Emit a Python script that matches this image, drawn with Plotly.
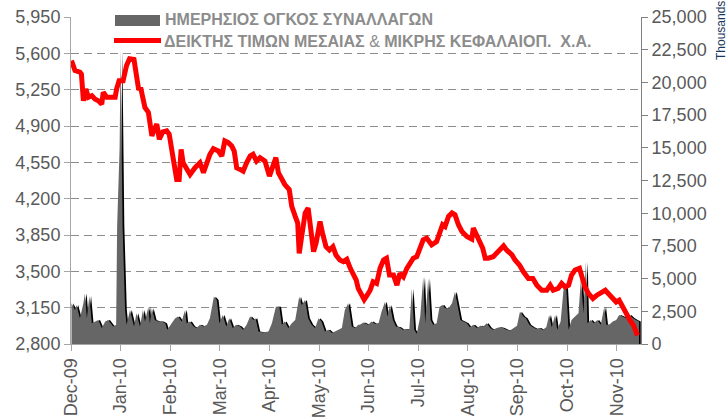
import plotly.graph_objects as go

# ---------------- data (x in months from Dec-09) ----------------
month_labels = ["Dec-09", "Jan-10", "Feb-10", "Mar-10", "Apr-10", "May-10",
                "Jun-10", "Jul-10", "Aug-10", "Sep-10", "Oct-10", "Nov-10"]

index_t = [0.01, 0.08, 0.18, 0.21, 0.25, 0.30, 0.35, 0.42, 0.48, 0.55, 0.62, 0.65, 0.72, 0.79, 0.89,
           0.92, 0.97, 1.05, 1.12, 1.18, 1.27, 1.32, 1.36, 1.41, 1.45, 1.49, 1.56, 1.59, 1.63, 1.68,
           1.73, 1.78, 1.85, 1.93, 1.98, 2.03, 2.08, 2.13, 2.18, 2.22, 2.26, 2.33, 2.40, 2.50, 2.60,
           2.67, 2.74, 2.80, 2.87, 2.97, 3.04, 3.10, 3.17, 3.24, 3.29, 3.34, 3.41, 3.47, 3.54, 3.61,
           3.67, 3.74, 3.81, 3.91, 4.00, 4.07, 4.13, 4.18, 4.25, 4.31, 4.40, 4.45, 4.52, 4.57, 4.60,
           4.65, 4.72, 4.78, 4.83, 4.89, 4.94, 5.02, 5.07, 5.14, 5.21, 5.28, 5.34, 5.42, 5.49, 5.56,
           5.63, 5.69, 5.75, 5.79, 5.85, 5.91, 5.97, 6.03, 6.09, 6.16, 6.23, 6.30, 6.36, 6.42, 6.50,
           6.57, 6.63, 6.70, 6.77, 6.83, 6.90, 6.97, 7.04, 7.10, 7.17, 7.27, 7.37, 7.44, 7.49, 7.54,
           7.61, 7.68, 7.74, 7.81, 7.88, 7.98, 8.08, 8.11, 8.18, 8.25, 8.30, 8.35, 8.41, 8.51, 8.61,
           8.72, 8.78, 8.89, 8.95, 9.04, 9.12, 9.22, 9.31, 9.39, 9.49, 9.59, 9.66, 9.72, 9.82, 9.89,
           9.96, 10.03, 10.09, 10.16, 10.25, 10.30, 10.36, 10.43, 10.52, 10.60, 10.70, 10.77, 10.83,
           10.90, 10.99, 11.05, 11.12, 11.19, 11.27, 11.34, 11.39, 11.42]
index_v = [5531, 5434, 5419, 5400, 5143, 5257, 5177, 5192, 5160, 5143, 5111, 5225, 5177, 5177, 5177,
           5257, 5337, 5337, 5483, 5548, 5541, 5386, 5264, 5257, 5143, 5079, 5031, 4934, 4804, 4869,
           4918, 4772, 4843, 4853, 4821, 4675, 4546, 4385, 4385, 4675, 4546, 4482, 4433, 4498, 4546,
           4450, 4562, 4627, 4682, 4659, 4610, 4756, 4740, 4707, 4659, 4498, 4482, 4465, 4546, 4610,
           4627, 4562, 4595, 4562, 4417, 4514, 4595, 4450, 4385, 4336, 4288, 4126, 4029, 3965, 3674,
           3868, 4062, 4110, 3900, 3690, 3771, 3981, 3868, 3738, 3706, 3738, 3658, 3609, 3593, 3616,
           3529, 3480, 3415, 3335, 3287, 3228, 3270, 3318, 3399, 3383, 3529, 3609, 3626, 3464, 3464,
           3367, 3480, 3447, 3529, 3577, 3626, 3641, 3722, 3803, 3820, 3755, 3787, 3868, 3949, 3932,
           4029, 4062, 4045, 3949, 3884, 3836, 3810, 3917, 3852, 3787, 3722, 3626, 3626, 3641, 3690,
           3745, 3706, 3658, 3609, 3561, 3496, 3432, 3432, 3367, 3318, 3318, 3367, 3318, 3335, 3383,
           3350, 3367, 3464, 3512, 3529, 3447, 3350, 3287, 3238, 3270, 3302, 3318, 3287,
           3254, 3205, 3222, 3157, 3093, 3028, 2979, 2931, 2882]

vol_t = [0.01, 0.08, 0.11, 0.18, 0.25, 0.28, 0.32, 0.37, 0.42, 0.48, 0.55, 0.62, 0.69, 0.75, 0.85,
         0.91, 0.93, 0.98, 1.00, 1.04, 1.09, 1.12, 1.19, 1.27, 1.32, 1.39, 1.45, 1.49, 1.56, 1.59,
         1.63, 1.69, 1.76, 1.83, 1.90, 1.94, 2.03, 2.10, 2.16, 2.23, 2.30, 2.33, 2.40, 2.47, 2.53,
         2.60, 2.67, 2.74, 2.80, 2.88, 2.94, 2.99, 3.06, 3.13, 3.19, 3.26, 3.33, 3.41, 3.47, 3.54,
         3.61, 3.68, 3.72, 3.78, 3.88, 3.98, 4.05, 4.13, 4.20, 4.25, 4.31, 4.38, 4.45, 4.52, 4.60,
         4.65, 4.72, 4.78, 4.85, 4.92, 4.99, 5.05, 5.12, 5.19, 5.26, 5.32, 5.39, 5.46, 5.52, 5.59,
         5.66, 5.73, 5.79, 5.83, 5.89, 5.99, 6.06, 6.13, 6.20, 6.26, 6.33, 6.38, 6.43, 6.49, 6.55,
         6.62, 6.69, 6.75, 6.82, 6.87, 6.92, 6.97, 7.04, 7.10, 7.14, 7.20, 7.25, 7.30, 7.37, 7.43,
         7.49, 7.54, 7.61, 7.68, 7.74, 7.79, 7.85, 7.91, 7.98, 8.04, 8.11, 8.18, 8.25, 8.31, 8.38,
         8.45, 8.51, 8.58, 8.65, 8.71, 8.78, 8.85, 8.92, 8.99, 9.05, 9.12, 9.17, 9.24, 9.31, 9.38,
         9.44, 9.51, 9.58, 9.64, 9.69, 9.76, 9.80, 9.87, 9.93, 9.98, 10.03, 10.09, 10.16, 10.23,
         10.28, 10.33, 10.38, 10.41, 10.48, 10.54, 10.61, 10.68, 10.75, 10.79, 10.85, 10.92, 10.99,
         11.05, 11.12, 11.19, 11.26, 11.33, 11.39, 11.45]
vol_v = [3112, 2603, 2983, 1973, 3112, 3870, 1973, 3666, 1594, 1715, 1844, 1214, 1715, 1844, 1336,
         1465, 9000, 15000, 22500, 9000, 2603, 1465, 2603, 1336, 2353, 1336, 2603, 1715, 2854, 1594,
         2732, 1844, 1715, 1715, 1594, 1085, 1594, 1973, 2095, 1715, 2603, 1594, 1715, 1336, 1214,
         1465, 1336, 1465, 1973, 3613, 3362, 1594, 2224, 1336, 1973, 1214, 1465, 1336, 1085, 1465,
         2095, 1844, 1973, 956, 880, 956, 1594, 2854, 2854, 1465, 1715, 1214, 1594, 1844, 3613,
         2983, 3362, 1973, 1465, 1214, 1973, 1715, 956, 1085, 835, 956, 1085, 1214, 2603, 3112,
         1336, 1214, 1465, 1465, 1640, 1465, 1715, 1540, 1594, 2474, 3233, 2095, 2983, 1844, 1336,
         1290, 1085, 1140, 1085, 4250, 1085, 782, 2095, 5131, 1594, 5009, 1844, 1465, 1594, 2854,
         2983, 2732, 2732, 3112, 3992, 3112, 1844, 1715, 1594, 1290, 1465, 1214, 1390, 1336, 1594,
         1214, 1085, 1214, 1290, 1214, 1085, 1030, 1214, 1390, 2474, 2095, 1973, 1465, 1290, 1140,
         1214, 1085, 1290, 2224, 1290, 2224, 1085, 1715, 4250, 4500, 1085, 1844, 2095, 2353,
         5009, 2353, 6270, 1594, 1844, 1594, 1844, 1465, 2854, 1465, 1465, 1715, 1844,
         2224, 2095, 1973, 2224, 1973, 1844, 1715]

left_ticks = [2800, 3150, 3500, 3850, 4200, 4550, 4900, 5250, 5600, 5950]
right_ticks = [0, 2500, 5000, 7500, 10000, 12500, 15000, 17500, 20000, 22500, 25000]

legend_vol = "ΗΜΕΡΗΣΙΟΣ ΟΓΚΟΣ ΣΥΝΑΛΛΑΓΩΝ"
legend_idx_a = "ΔΕΙΚΤΗΣ ΤΙΜΩΝ ΜΕΣΑΙΑΣ"
legend_idx_b = "ΜΙΚΡΗΣ ΚΕΦΑΛΑΙΟΠ.&nbsp;&nbsp;Χ.Α."

# ---------------- figure ----------------
W, H = 728, 420
L, R, T, B = 71, 641, 17, 344
shadow_shift = 0.035

fig = go.Figure()
fig.add_trace(go.Scatter(x=[t + shadow_shift for t in vol_t], y=vol_v, mode="lines",
                         line=dict(color="#000000", width=0), fill="tozeroy",
                         fillcolor="#000000", yaxis="y", showlegend=False, hoverinfo="skip"))
fig.add_trace(go.Scatter(x=vol_t, y=vol_v, mode="lines", line=dict(color="#666666", width=0),
                         fill="tozeroy", fillcolor="#666666", yaxis="y", showlegend=False))
fig.add_trace(go.Scatter(x=index_t, y=index_v, mode="lines", line=dict(color="#ff0000", width=5),
                         yaxis="y2", showlegend=False))

tick_font = dict(family="Liberation Sans, Arial, sans-serif", size=18, color="#595959")

fig.update_layout(
    width=W, height=H,
    margin=dict(l=L, r=W - R, t=T, b=H - B, pad=0, autoexpand=False),
    paper_bgcolor="white", plot_bgcolor="white",
    xaxis=dict(range=[0, 11.49], tickvals=list(range(len(month_labels))), ticktext=month_labels,
               tickangle=-90, ticks="outside", ticklen=6, tickcolor="#a6a6a6", automargin=False,
               showline=True, linecolor="#a6a6a6", linewidth=1, showgrid=False, zeroline=False,
               tickfont=tick_font),
    yaxis=dict(side="right", range=[0, 25000], tickvals=right_ticks, tickformat=",",
               ticks="outside", ticklen=6, tickcolor="#808080", showline=True, automargin=False,
               linecolor="#808080", linewidth=1, showgrid=False, zeroline=False,
               tickfont=tick_font),
    yaxis2=dict(side="left", overlaying="y", range=[2800, 5950], tickvals=left_ticks,
                tickformat=",", ticks="outside", ticklen=6, tickcolor="#a6a6a6", automargin=False,
                showline=True, linecolor="#a6a6a6", linewidth=1,
                showgrid=True, gridcolor="#8c8c8c", gridwidth=1, griddash="8px,5px",
                zeroline=False, tickfont=tick_font),
)

def px(x):
    return (x - L) / (R - L)

def py(y):
    return (B - y) / (B - T)

# legend swatches
fig.add_shape(type="rect", xref="paper", yref="paper", x0=px(115), x1=px(160), y0=py(26), y1=py(15),
              fillcolor="#666666", line=dict(width=0))
fig.add_shape(type="line", xref="paper", yref="paper", x0=px(114), x1=px(161), y0=py(40.5), y1=py(40.5),
              line=dict(color="#ff0000", width=5))

legend_font = dict(family="Liberation Sans, Arial, sans-serif", size=16, color="#8c8c8c")
fig.add_annotation(xref="paper", yref="paper", x=px(163), y=py(20), xanchor="left", yanchor="middle",
                   text="<b>" + legend_vol + "</b>", showarrow=False, font=legend_font)
fig.add_annotation(xref="paper", yref="paper", x=px(162), y=py(41.5), xanchor="left", yanchor="middle",
                   text="<b>" + legend_idx_a + "</b> &amp; <b>" + legend_idx_b + "</b>",
                   showarrow=False, font=legend_font)

fig.add_annotation(xref="paper", yref="paper", x=px(721), y=py(31), xanchor="center", yanchor="middle",
                   text="Thousands", textangle=-90, showarrow=False,
                   font=dict(family="Liberation Sans, Arial", size=12, color="#17375e"))

fig.write_html("out.html", config={"displayModeBar": False},
               post_script="document.body.style.margin='0';document.body.style.overflow='hidden';")
